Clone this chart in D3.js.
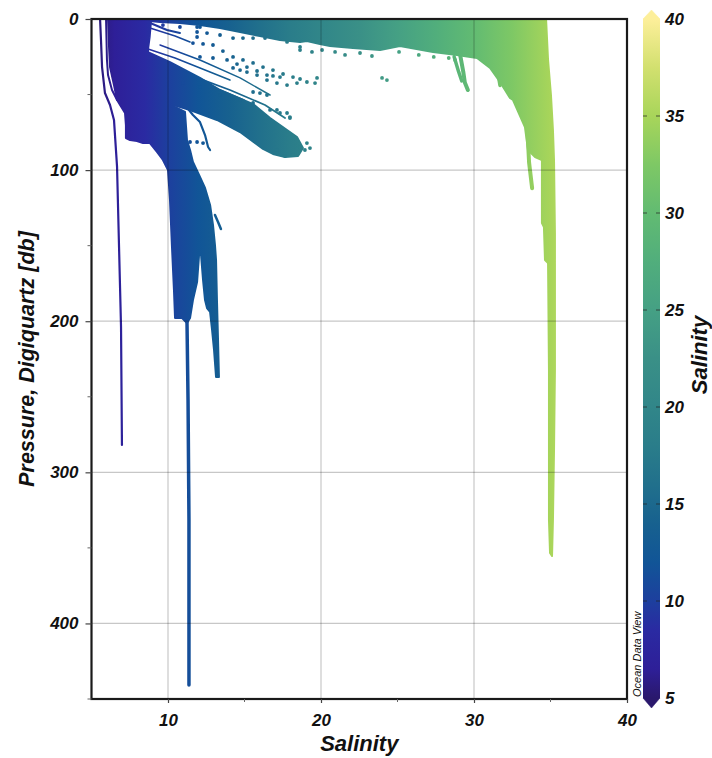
<!DOCTYPE html>
<html>
<head>
<meta charset="utf-8">
<script src="https://cdn.jsdelivr.net/npm/d3@7"></script>
<style>
  html, body { margin: 0; padding: 0; background: #fff; }
  svg { display: block; font-family: "Liberation Sans", Arial, sans-serif; }
</style>
</head>
<body>
<svg id="chart" width="712" height="758"></svg>
<script>
// ---- axis ticks ----
const xMajorTicks = [10, 20, 30, 40];
const xMinorTicks = [15, 25, 35];
const yMajorTicks = [0, 100, 200, 300, 400];
const yMinorTicks = [50, 150, 250, 350, 450];
const colorTicks = [5, 10, 15, 20, 25, 30, 35, 40];

// ---- haline palette: [salinity, colour] ----
const paletteStops = [
  [5, "#2a186c"], [6.5, "#2e1f98"], [8.5, "#2a2aa2"], [10, "#1d3f9e"],
  [12, "#115597"], [14, "#17618f"], [16, "#21708c"], [18, "#2a7d8a"],
  [20, "#318689"], [22.5, "#3a9087"], [25, "#45a084"], [27.5, "#51ae7c"],
  [30, "#62bb72"], [32.5, "#7ec865"], [35, "#a8d55a"], [37.5, "#d2e06f"],
  [40, "#fdef9a"]
];

// ---- dense clusters of samples, outlined as [salinity, pressure] ----
const surfaceLayer = [
  [8.37, 0], [34.71, 0], [34.84, 27.1], [35.03, 50.3], [35.16, 73.5], [35.23, 93.3],
  [34.44, 93.3], [33.99, 91.3], [33.53, 86.7], [33.33, 71.5], [32.55, 53.6],
  [32.35, 52.3], [31.70, 41.7], [31.05, 32.4], [30.20, 25.8], [28.89, 23.8],
  [27.32, 21.8], [25.16, 17.9], [23.86, 20.5], [22.09, 19.2], [20.59, 17.9],
  [19.93, 16.5], [19.08, 14.6], [18.63, 15.2], [17.32, 13.9], [16.01, 11.3],
  [14.71, 8.6], [13.40, 6.0], [12.09, 4.0], [10.78, 2.6], [9.48, 2.0], [8.82, 1.3]
];
const marineColumn = [
  [34.44, 93.3], [34.44, 135.0], [34.57, 137.7], [34.64, 159.5], [34.84, 161.5],
  [34.90, 232.3], [34.90, 285.2], [34.90, 331.6], [34.97, 353.4], [35.10, 355.4],
  [35.16, 331.6], [35.23, 285.2], [35.29, 232.3], [35.29, 141.6], [35.23, 93.3]
];
const brackishCore = [
  [6.08, 0], [8.9, 0], [8.8, 12.0], [8.69, 20.5], [8.82, 50.3], [9.93, 55.6],
  [11.11, 61.5], [11.24, 80.1], [11.44, 86.7], [11.63, 94.6], [12.03, 103.2],
  [12.42, 111.8], [12.75, 123.1], [12.94, 136.3], [13.07, 149.6], [13.14, 159.5],
  [13.20, 186.0], [13.27, 212.4], [13.33, 236.9], [13.14, 236.9], [13.01, 219.1],
  [12.88, 205.8], [12.75, 193.9], [12.55, 191.3], [12.42, 186.0], [12.29, 172.7],
  [12.16, 156.2], [12.03, 156.2], [11.90, 174.1], [11.63, 186.0], [11.44, 197.9],
  [11.24, 201.2], [10.92, 197.9], [10.46, 197.9], [10.39, 179.4], [10.26, 150.9],
  [10.13, 119.8], [10.00, 99.9], [9.67, 93.3], [9.28, 88.0], [8.82, 82.1],
  [8.37, 82.1], [7.97, 80.7], [7.52, 80.1], [7.25, 78.8], [7.25, 70.2],
  [7.19, 62.2], [6.99, 58.9], [6.67, 53.6], [6.47, 43.7], [6.21, 31.8], [6.14, 17.2]
];
const brackishTongue = [
  [8.37, 20.5], [10.13, 28.5], [12.09, 39.0], [13.40, 47.0], [15.56, 56.3],
  [16.67, 65.5], [17.78, 73.5], [18.43, 78.1], [18.82, 85.4], [18.50, 90.7],
  [17.65, 91.3], [16.86, 89.3], [16.21, 86.0], [14.71, 74.8], [13.20, 66.8],
  [11.44, 60.2], [9.93, 55.6], [8.82, 50.3]
];

// ---- individual casts and streaks: [salinity, pressure] ----
const freshCast = [
  [5.56, 0], [5.62, 13.9], [5.69, 31.8], [5.88, 49], [6.21, 56.9], [6.47, 66.8],
  [6.67, 97.9], [6.80, 150.9], [6.93, 203.8], [6.99, 281.9]
];
const freshCast2 = [[5.95, 0], [6.01, 27.1], [6.08, 37.1], [6.34, 47.0], [6.67, 53.6]];
const deepCast = [[11.24, 199.2], [11.31, 252.1], [11.37, 331.6], [11.37, 384.5], [11.37, 440.8]];
const hookCast = [[11.11, 56.9], [11.63, 63.5], [12.09, 68.2], [12.42, 76.8], [12.62, 84.7], [12.75, 86.7]];
const sideBranch = [[13.07, 129.7], [13.27, 134.3], [13.46, 139.0]];
const topStreak = [[8.37, 0.7], [9.15, 4.0], [9.93, 7.3], [10.78, 9.3]];
const streakA = [[8.50, 19.2], [10.46, 25.8], [12.42, 33.8], [14.05, 40.4]];
const streakB = [[8.69, 27.1], [10.78, 35.1], [13.07, 45.7], [14.97, 53.6]];
const streakC = [[8.82, 6.0], [10.46, 11.3], [11.44, 15.2]];
const fanStreakA = [[8.82, 28.5], [11.44, 37.1], [14.05, 47.0], [16.34, 56.9], [17.65, 65.5]];
const fanStreakB = [[8.69, 35.1], [11.11, 45.7], [13.40, 54.9], [15.36, 63.5], [17.0, 73.5]];
const fanStreakC = [[9.48, 17.2], [12.09, 27.1], [14.71, 39.0], [16.67, 50.3]];
const marineTailA = [[33.5, 75], [33.6, 95], [33.8, 112]];
const marineTailB = [[29.1, 24], [29.3, 35], [29.4, 42], [29.6, 47]];
const marineTailC = [[28.7, 25], [29.0, 35], [29.2, 41]];
const marineTailD = [[31.5, 30], [31.6, 38], [31.7, 44]];

// ---- loose samples: [salinity, pressure] ----
const looseSamples = [
  [11.63, 15.9], [12.29, 16.5], [12.94, 17.2], [13.59, 21.2], [14.25, 25.1], [14.90, 27.1],
  [15.56, 29.1], [16.21, 31.8], [16.86, 33.8], [17.52, 36.4], [18.17, 38.4], [18.63, 39.7], [19.08, 41.7],
  [12.09, 25.1], [12.94, 25.8], [13.86, 27.1], [14.51, 29.8], [15.16, 31.8], [15.82, 34.4],
  [16.47, 37.1], [16.86, 37.7], [17.32, 38.4],
  [14.25, 32.4], [14.71, 33.8], [15.16, 35.1], [15.82, 37.1], [16.47, 40.4], [17.12, 42.4],
  [17.78, 43.7], [18.43, 42.4],
  [13.40, 10.6], [14.25, 12.6], [14.90, 12.6], [15.56, 12.6], [16.34, 12.6], [17.12, 12.6],
  [17.78, 15.2], [18.63, 18.5],
  [11.90, 2.0], [11.90, 5.3], [11.90, 8.6], [11.90, 11.9], [12.55, 9.3], [9.67, 4.0],
  [10.78, 5.3], [12.09, 5.3],
  [15.56, 48.3], [16.01, 49.0], [16.47, 50.3], [17.12, 60.2], [17.78, 62.2], [17.97, 65.5],
  [10.98, 42.4], [12.09, 45.0], [13.40, 50.3], [14.71, 53.6], [15.56, 55.6], [16.67, 60.2],
  [17.32, 62.2], [17.97, 64.9],
  [11.44, 81.4], [11.90, 81.4], [12.29, 82.1],
  [19.08, 82.1], [18.63, 84.7],
  [23.99, 39.0], [24.31, 40.4],
  [19.61, 42.4], [19.74, 39.0],
  [20.92, 21.8], [21.57, 23.8], [22.55, 22.5], [23.33, 24.5], [25.10, 21.8], [26.39, 23.8],
  [27.37, 25.1], [28.35, 25.8], [28.76, 27.1], [18.63, 20.5], [19.41, 21.8], [20.07, 20.5],
  [17.12, 86.7], [17.65, 90.7], [18.17, 90.0], [18.95, 86.7], [19.28, 85.4]
];

// ---- layout ----
const svg = d3.select("#chart");
const x = d3.scaleLinear().domain([5, 40]).range([91.5, 627]);
const y = d3.scaleLinear().domain([0, 450]).range([19, 699]);
const cy = d3.scaleLinear().domain([5, 40]).range([698, 19]);
const cbX0 = 643, cbW = 17;
const palette = d3.scaleLinear()
  .domain(paletteStops.map(d => d[0]))
  .range(paletteStops.map(d => d[1]));

const defs = svg.append("defs");
// horizontal gradient: colour of every mark follows its salinity (x position)
const dataGrad = defs.append("linearGradient")
  .attr("id", "salGrad").attr("gradientUnits", "userSpaceOnUse")
  .attr("x1", x(5)).attr("x2", x(40)).attr("y1", 0).attr("y2", 0);
dataGrad.selectAll("stop").data(paletteStops).join("stop")
  .attr("offset", d => (d[0] - 5) / 35).attr("stop-color", d => d[1]);
// vertical gradient for the colour bar
const barGrad = defs.append("linearGradient")
  .attr("id", "barGrad").attr("gradientUnits", "userSpaceOnUse")
  .attr("x1", 0).attr("x2", 0).attr("y1", cy(5)).attr("y2", cy(40));
barGrad.selectAll("stop").data(paletteStops).join("stop")
  .attr("offset", d => (d[0] - 5) / 35).attr("stop-color", d => d[1]);
defs.append("clipPath").attr("id", "plotClip").append("rect")
  .attr("x", x(5)).attr("y", y(0)).attr("width", x(40) - x(5)).attr("height", y(450) - y(0));

const data = svg.append("g").attr("clip-path", "url(#plotClip)");
const area = d3.line().x(d => x(d[0])).y(d => y(d[1])).curve(d3.curveLinearClosed);
const line = d3.line().x(d => x(d[0])).y(d => y(d[1]));

// dense clusters
[surfaceLayer, marineColumn, brackishCore, brackishTongue].forEach(poly => {
  data.append("path").attr("d", area(poly))
    .attr("fill", "url(#salGrad)")
    .attr("stroke", "url(#salGrad)").attr("stroke-width", 2).attr("stroke-linejoin", "round");
});

// casts
const casts = [
  [freshCast, 2.2], [freshCast2, 2], [deepCast, 3.5], [hookCast, 2.2], [sideBranch, 2.5],
  [topStreak, 2], [streakA, 1.6], [streakB, 1.6], [streakC, 1.6],
  [fanStreakA, 1.8], [fanStreakB, 1.8], [fanStreakC, 1.5],
  [marineTailA, 4], [marineTailB, 4], [marineTailC, 3.5], [marineTailD, 3.5]
];
casts.forEach(([pts, w]) => {
  data.append("path").attr("d", line(pts))
    .attr("fill", "none").attr("stroke", "url(#salGrad)")
    .attr("stroke-width", w).attr("stroke-linecap", "round").attr("stroke-linejoin", "round");
});

// loose samples
data.selectAll("circle.sample").data(looseSamples).join("circle")
  .attr("class", "sample")
  .attr("cx", d => x(d[0])).attr("cy", d => y(d[1])).attr("r", 1.9)
  .attr("fill", d => palette(d[0]));

// grid lines drawn over the samples
const grid = svg.append("g").attr("stroke", "#000").attr("stroke-opacity", 0.22).attr("stroke-width", 1.2);
grid.selectAll("line.gx").data([10, 20, 30]).join("line")
  .attr("x1", d => x(d)).attr("x2", d => x(d)).attr("y1", y(0)).attr("y2", y(450));
grid.selectAll("line.gy").data([100, 200, 300, 400]).join("line")
  .attr("x1", x(5)).attr("x2", x(40)).attr("y1", d => y(d)).attr("y2", d => y(d));

// frame
svg.append("rect").attr("x", x(5)).attr("y", y(0))
  .attr("width", x(40) - x(5)).attr("height", y(450) - y(0))
  .attr("fill", "none").attr("stroke", "#1a1a1a").attr("stroke-width", 2.2);

// axes
const xAxis = svg.append("g").attr("transform", `translate(0,${y(450)})`)
  .call(d3.axisBottom(x).tickValues(xMajorTicks).tickSize(4).tickPadding(11).tickFormat(d3.format("d")));
const yAxis = svg.append("g").attr("transform", `translate(${x(5)},0)`)
  .call(d3.axisLeft(y).tickValues(yMajorTicks).tickSize(6).tickPadding(7).tickFormat(d3.format("d")));
[xAxis, yAxis].forEach(g => {
  g.select(".domain").remove();
  g.selectAll(".tick line").attr("stroke", "#444").attr("stroke-width", 1.2);
  g.selectAll("text").attr("font-size", 17).attr("font-weight", "bold")
    .attr("font-style", "italic").attr("fill", "#111")
    .attr("font-family", "'Liberation Sans', Arial, sans-serif");
});
svg.append("g").selectAll("line").data(xMinorTicks).join("line")
  .attr("x1", d => x(d)).attr("x2", d => x(d)).attr("y1", y(450)).attr("y2", y(450) + 3)
  .attr("stroke", "#666").attr("stroke-width", 1);
svg.append("g").selectAll("line").data(yMinorTicks).join("line")
  .attr("x1", x(5) - 4).attr("x2", x(5)).attr("y1", d => y(d)).attr("y2", d => y(d))
  .attr("stroke", "#666").attr("stroke-width", 1);

// axis titles
svg.append("text").attr("x", (x(5) + x(40)) / 2).attr("y", 751)
  .attr("text-anchor", "middle").attr("font-size", 22)
  .attr("font-weight", "bold").attr("font-style", "italic").attr("fill", "#111")
  .text("Salinity");
svg.append("text").attr("transform", `translate(34,${(y(0) + y(450)) / 2}) rotate(-90)`)
  .attr("text-anchor", "middle").attr("font-size", 21.5)
  .attr("font-weight", "bold").attr("font-style", "italic").attr("fill", "#111")
  .text("Pressure, Digiquartz [db]");

// colour bar
const cb = svg.append("g");
cb.append("rect").attr("x", cbX0).attr("y", cy(40)).attr("width", cbW).attr("height", cy(5) - cy(40))
  .attr("fill", "url(#barGrad)");
cb.append("path")
  .attr("d", `M${cbX0},${cy(40)}L${cbX0 + cbW / 2},${cy(40) - 9}L${cbX0 + cbW},${cy(40)}Z`)
  .attr("fill", palette(40)).attr("stroke", palette(40)).attr("stroke-width", 0.5);
cb.append("path")
  .attr("d", `M${cbX0},${cy(5)}L${cbX0 + cbW / 2},${cy(5) + 10}L${cbX0 + cbW},${cy(5)}Z`)
  .attr("fill", palette(5)).attr("stroke", palette(5)).attr("stroke-width", 0.5);
cb.selectAll("line.tl").data(colorTicks.slice(1, -1)).join("line")
  .attr("x1", cbX0).attr("x2", cbX0 + 4).attr("y1", d => cy(d)).attr("y2", d => cy(d))
  .attr("stroke", "#222").attr("stroke-opacity", 0.7).attr("stroke-width", 1);
cb.selectAll("line.tr").data(colorTicks.slice(1, -1)).join("line")
  .attr("x1", cbX0 + cbW - 4).attr("x2", cbX0 + cbW).attr("y1", d => cy(d)).attr("y2", d => cy(d))
  .attr("stroke", "#222").attr("stroke-opacity", 0.7).attr("stroke-width", 1);
cb.selectAll("text.cl").data(colorTicks).join("text")
  .attr("x", 665).attr("y", d => cy(d)).attr("dy", "0.36em")
  .attr("font-size", 17).attr("font-weight", "bold").attr("font-style", "italic").attr("fill", "#111")
  .text(d => d);
cb.append("text").attr("transform", `translate(707,355) rotate(-90)`)
  .attr("text-anchor", "middle").attr("font-size", 22)
  .attr("font-weight", "bold").attr("font-style", "italic").attr("fill", "#111")
  .text("Salinity");
svg.append("text").attr("transform", `translate(641,697) rotate(-90)`)
  .attr("text-anchor", "start").attr("font-size", 11)
  .attr("font-style", "italic").attr("fill", "#111")
  .text("Ocean Data View");
</script>
</body>
</html>
